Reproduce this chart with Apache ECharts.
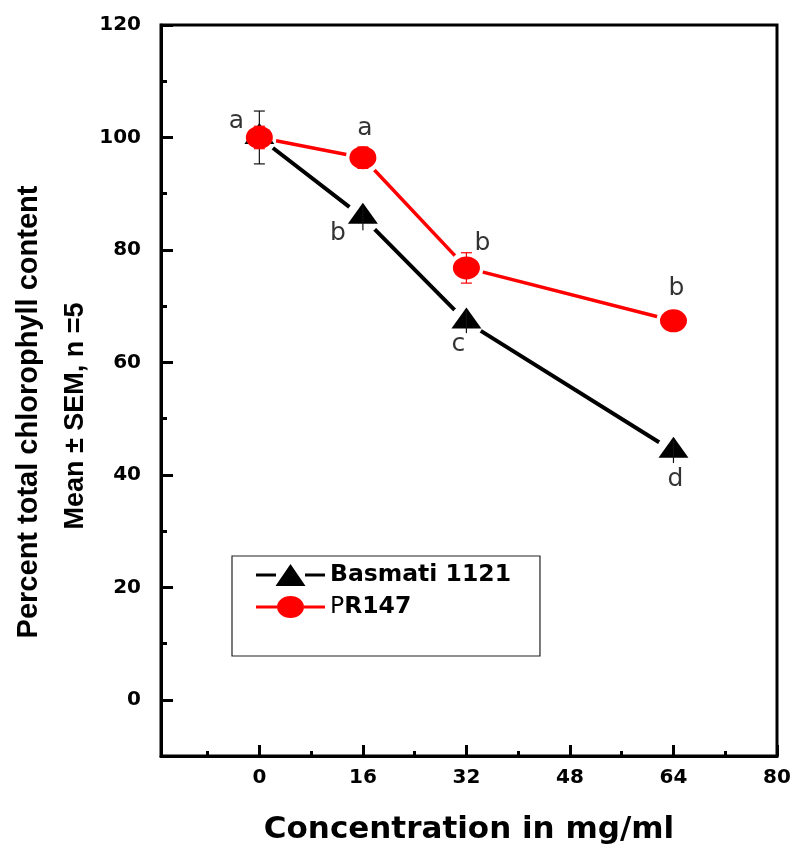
<!DOCTYPE html>
<html>
<head>
<meta charset="utf-8">
<script src="https://cdn.jsdelivr.net/npm/echarts@6/dist/echarts.min.js"></script>
<style>
html,body{margin:0;padding:0;background:#fff;}
#chart{width:794px;height:848px;}
</style>
</head>
<body>
<div id="chart"></div>
<script>
// ---- data ----
const concentrations = [0, 16, 32, 64];
const basmati = [100, 85.8, 67.2, 44.2];
const basmatiSem = [4.7, 2.3, 2.0, 2.1];
const basmatiLetters = ['', 'b', 'c', 'd'];
const pr147 = [100, 96.4, 76.8, 67.4];
const pr147Sem = [2.0, 1.9, 2.7, 0.8];
const pr147Letters = ['a', 'a', 'b', 'b'];
const xMajorTicks = [0, 16, 32, 48, 64, 80];
const xMinorTicks = [-8, 8, 24, 40, 56, 72];
const yMajorTicks = [0, 20, 40, 60, 80, 100, 120];
const yMinorTicks = [10, 30, 50, 70, 90, 110];
const seriesNames = ['Basmati 1121', 'PR147'];

// ---- styles ----
const basmatiLetterOffsets = [[0, 0], [-25, 16], [-8, 23], [2, 28]];
const prLetterOffsets = [[-23, -16], [2, -29], [16, -24], [3, -32]];
const ellipsePath = 'path://M0 10 A10 10 0 1 1 20 10 A10 10 0 1 1 0 10 Z';
const legendTri = 'path://M0 9.5 L20 9.5 L20 12.5 L0 12.5 Z M49 9.5 L69 9.5 L69 12.5 L49 12.5 Z M34.5 0 L49.5 22 L19.5 22 Z';
const legendEll = 'path://M0 9.5 L21 9.5 L21 12.5 L0 12.5 Z M48 9.5 L69 9.5 L69 12.5 L48 12.5 Z M21 11 A13.5 11 0 1 1 48 11 A13.5 11 0 1 1 21 11 Z';
const triSize = [30, 21], triOffset = [0, -4];
const ellSize = [27, 23];
const gapSize = 34; // white gap drawn round each point so lines stop short of the markers

const chart = echarts.init(document.getElementById('chart'), null, {renderer: 'canvas'});

function pairs(ys) { return concentrations.map((x, i) => [x, ys[i]]); }

function errorSeries(name, ys, sems, color, zl, capFn) {
  return {
    type: 'custom',
    name: name + ' SEM',
    zlevel: zl,
    silent: true,
    data: concentrations.map((x, i) => [x, ys[i], sems[i]]),
    renderItem: function (params, api) {
      const x = api.value(0), y = api.value(1), s = api.value(2);
      const top = api.coord([x, y + s]);
      const bot = api.coord([x, y - s]);
      const cw = capFn(params.dataIndex);
      const children = [{
        type: 'line', shape: {x1: top[0], y1: top[1], x2: bot[0], y2: bot[1]},
        style: {stroke: color, lineWidth: 1.2}
      }];
      if (cw > 0) {
        children.push({type: 'line', shape: {x1: top[0] - cw / 2, y1: top[1], x2: top[0] + cw / 2, y2: top[1]}, style: {stroke: color, lineWidth: 1.2}});
        children.push({type: 'line', shape: {x1: bot[0] - cw / 2, y1: bot[1], x2: bot[0] + cw / 2, y2: bot[1]}, style: {stroke: color, lineWidth: 1.2}});
      }
      return {type: 'group', children: children};
    }
  };
}

function markerSeries(name, data, symbol, size, offset, color, zl) {
  return {
    type: 'scatter', name: name, zlevel: zl, silent: true,
    data: data, symbol: symbol, symbolSize: size, symbolOffset: offset, symbolKeepAspect: false,
    itemStyle: {color: color, opacity: 1, borderWidth: 0},
    emphasis: {disabled: true}
  };
}

const letterFont = {fontFamily: 'DejaVu Sans', fontSize: 25, color: '#000'};

const option = {
  animation: false,
  backgroundColor: '#fff',
  grid: {left: 161, right: 17, top: 25, bottom: 92, show: true, borderColor: '#000', borderWidth: 3,
         containLabel: false, outerBoundsMode: 'none'},
  xAxis: [{
    type: 'value', min: -15.2, max: 80,
    name: 'Concentration in mg/ml', nameLocation: 'middle', nameGap: 58,
    nameTextStyle: {fontFamily: 'DejaVu Sans', fontWeight: 'bold', fontSize: 31, color: '#000'},
    axisLine: {show: true, onZero: false, lineStyle: {color: '#000', width: 3}},
    axisTick: {show: true, inside: true, length: 11, customValues: xMajorTicks, lineStyle: {color: '#000', width: 3}},
    axisLabel: {customValues: xMajorTicks, margin: 12, fontFamily: 'DejaVu Sans', fontWeight: 'bold', fontSize: 20, color: '#000'},
    splitLine: {show: false}
  }, {
    type: 'value', min: -15.2, max: 80, position: 'bottom',
    axisLine: {show: false, onZero: false},
    axisTick: {show: true, inside: true, length: 5, customValues: xMinorTicks, lineStyle: {color: '#000', width: 3}},
    axisLabel: {show: false}, splitLine: {show: false}
  }],
  yAxis: [{
    type: 'value', min: -10, max: 120,
    axisLine: {show: true, onZero: false, lineStyle: {color: '#000', width: 3}},
    axisTick: {show: true, inside: true, length: 12, customValues: yMajorTicks, lineStyle: {color: '#000', width: 3}},
    axisLabel: {customValues: yMajorTicks, margin: 20, fontFamily: 'DejaVu Sans', fontWeight: 'bold', fontSize: 20, color: '#000'},
    splitLine: {show: false}
  }, {
    type: 'value', min: -10, max: 120, position: 'left', offset: 0,
    axisLine: {show: false, onZero: false},
    axisTick: {show: true, inside: true, length: 6, customValues: yMinorTicks, lineStyle: {color: '#000', width: 3}},
    axisLabel: {show: false}, splitLine: {show: false}
  }],
  legend: {
    orient: 'vertical', left: 232, top: 556,
    padding: [7, 29, 37, 24],
    borderColor: '#222', borderWidth: 1.2,
    itemWidth: 69, itemHeight: 22, itemGap: 8,
    selectedMode: false,
    itemStyle: {borderWidth: 0},
    data: [
      {name: seriesNames[0], icon: legendTri},
      {name: seriesNames[1], icon: legendEll}
    ],
    formatter: function (name) { return name === 'PR147' ? '{n|P}{b|R147}' : '{b|' + name + '}'; },
    textStyle: {
      fontFamily: 'DejaVu Sans', fontWeight: 'bold', fontSize: 23.5, color: '#000', lineHeight: 22,
      rich: {
        n: {fontFamily: 'DejaVu Sans', fontWeight: 'normal', fontSize: 23.5, color: '#000', lineHeight: 22},
        b: {fontFamily: 'DejaVu Sans', fontWeight: 'bold', fontSize: 23.5, color: '#000', lineHeight: 22}
      }
    }
  },
  graphic: [
    {type: 'text', x: 29, y: 412, rotation: Math.PI / 2, silent: true,
     style: {text: 'Percent total chlorophyll content', font: 'bold 29px "Liberation Sans", Arial, sans-serif', fill: '#000', textAlign: 'center', textVerticalAlign: 'middle'}},
    {type: 'text', x: 76, y: 416, rotation: Math.PI / 2, silent: true,
     style: {text: 'Mean \u00b1 SEM, n =5', font: 'bold 27px "Liberation Sans", Arial, sans-serif', fill: '#000', textAlign: 'center', textVerticalAlign: 'middle'}}
  ],
  series: [
    {
      type: 'line', name: seriesNames[0], zlevel: 1, silent: true,
      data: pairs(basmati), symbol: 'none',
      lineStyle: {color: '#000', width: 4}, itemStyle: {color: '#000'},
      emphasis: {disabled: true}
    },
    {
      type: 'line', name: seriesNames[1], zlevel: 1, silent: true,
      data: pairs(pr147), symbol: 'none',
      lineStyle: {color: '#ff0000', width: 3.5}, itemStyle: {color: '#ff0000'},
      emphasis: {disabled: true}
    },
    markerSeries('Basmati gap', pairs(basmati), 'circle', gapSize, [0, 0], '#ffffff', 2),
    markerSeries('PR147 gap', pairs(pr147), 'circle', gapSize, [0, 0], '#ffffff', 2),
    markerSeries('Basmati markers', pairs(basmati), 'triangle', triSize, triOffset, '#000000', 3),
    errorSeries('Basmati 1121', basmati, basmatiSem, '#111', 4, i => (i === 0 ? 11 : 0)),
    markerSeries('PR147 markers', pairs(pr147), ellipsePath, ellSize, [0, 0], '#ff0000', 5),
    errorSeries('PR147', pr147, pr147Sem, '#ff0000', 6, i => 11),
    {
      type: 'scatter', name: 'letters1', zlevel: 7, silent: true,
      symbolSize: 1, itemStyle: {color: 'rgba(0,0,0,0)'},
      data: pairs(basmati).map((p, i) => ({
        value: p,
        label: {show: basmatiLetters[i] !== '', formatter: basmatiLetters[i], position: 'inside', offset: basmatiLetterOffsets[i], ...letterFont}
      }))
    },
    {
      type: 'scatter', name: 'letters2', zlevel: 7, silent: true,
      symbolSize: 1, itemStyle: {color: 'rgba(0,0,0,0)'},
      data: pairs(pr147).map((p, i) => ({
        value: p,
        label: {show: true, formatter: pr147Letters[i], position: 'inside', offset: prLetterOffsets[i], ...letterFont}
      }))
    }
  ]
};
chart.setOption(option);
</script>
</body>
</html>
